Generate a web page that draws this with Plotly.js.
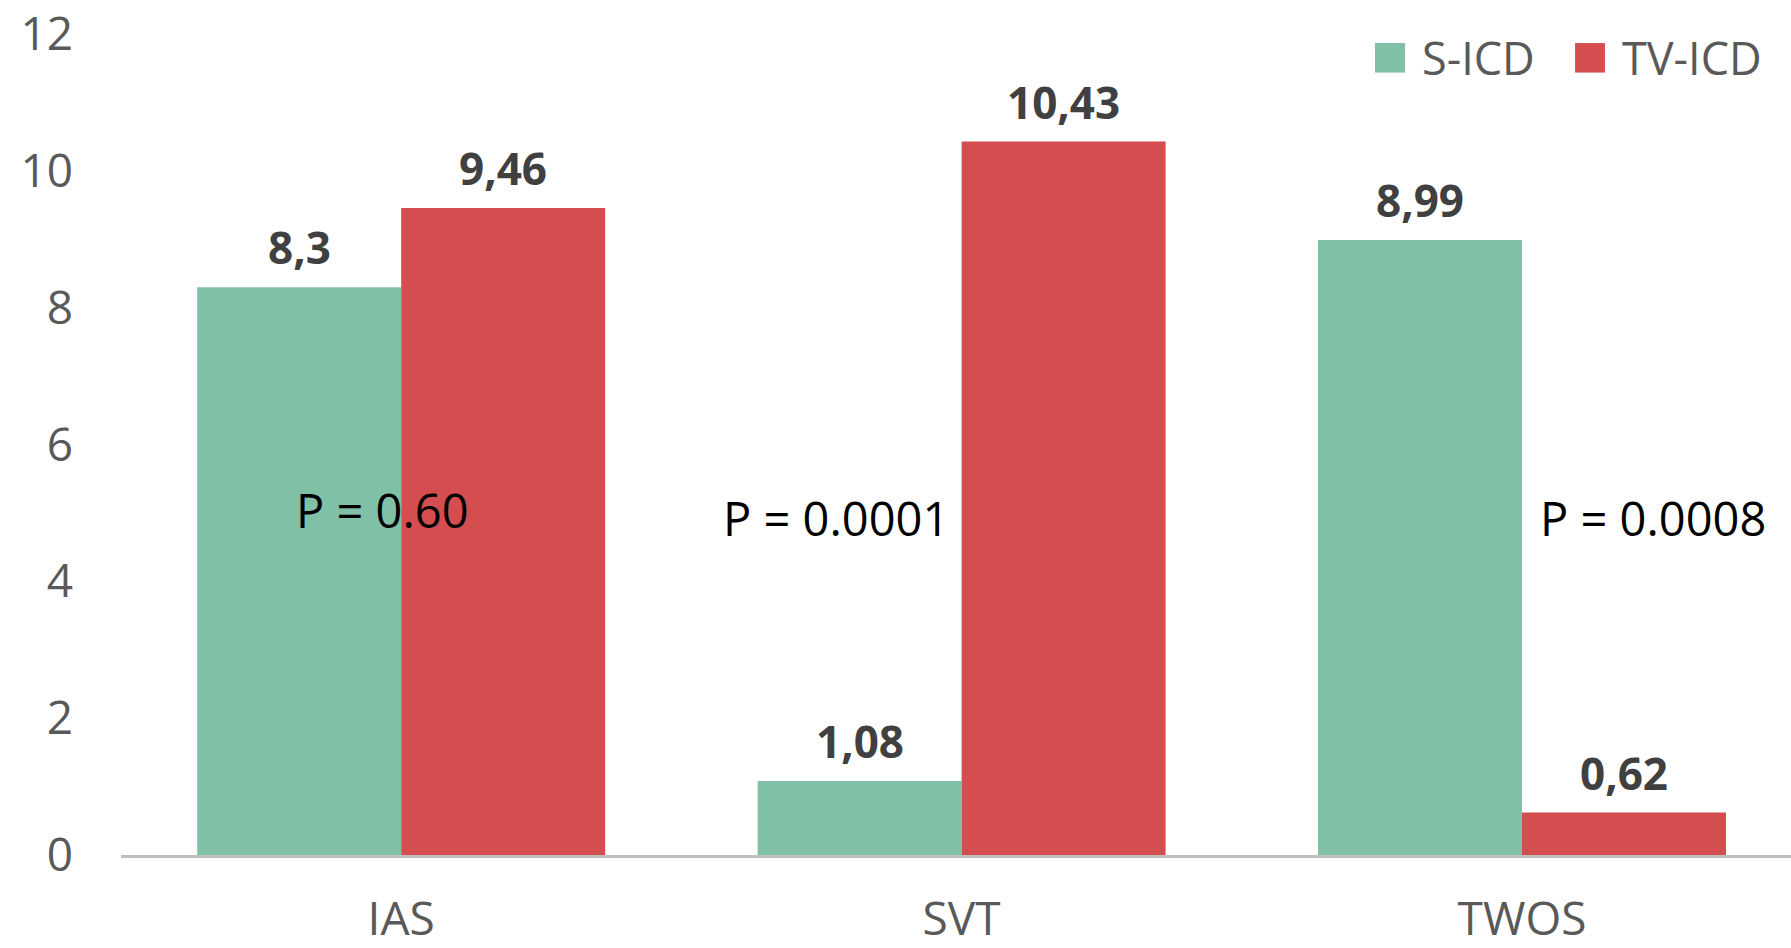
<!DOCTYPE html>
<html>
<head>
<meta charset="utf-8">
<script src="https://cdn.plot.ly/plotly-3.0.1.min.js"></script>
<style>
  html, body { margin: 0; padding: 0; background: #ffffff; }
  #chart { width: 1791px; height: 948px; }
</style>
</head>
<body>
<div id="chart"></div>
<script>
// Inappropriate shocks by cause, S-ICD vs TV-ICD
const categories = ['IAS', 'SVT', 'TWOS'];
const sIcdValues = [8.3, 1.08, 8.99];
const tvIcdValues = [9.46, 10.43, 0.62];
const seriesNames = ['S-ICD', 'TV-ICD'];
const pValueLabels = ['P = 0.60', 'P = 0.0001', 'P = 0.0008'];
const yTickValues = [0, 2, 4, 6, 8, 10, 12];

const COLORS = ['#80C0A7', '#D44D4F'];
const FONT = '"Open Sans", "Noto Sans", sans-serif';
const BARGAP = 0.272;
const series = [sIcdValues, tvIcdValues];

const traces = series.map((vals, i) => ({
  type: 'bar',
  name: seriesNames[i],
  x: categories,
  y: vals,
  marker: { color: COLORS[i], line: { width: 0 } },
  hoverinfo: 'none'
}));

// Value labels above each bar, centred on the bar's slot within its group
const slotWidth = (1 - BARGAP) / 2;
const annotations = [];
series.forEach((vals, i) => {
  vals.forEach((v, j) => {
    annotations.push({
      x: j + (i - 0.5) * slotWidth, y: v, xref: 'x', yref: 'y',
      text: '<b>' + String(v).replace('.', ',') + '</b>',
      showarrow: false, xanchor: 'center', yanchor: 'bottom', yshift: 8,
      font: { family: FONT, size: 44, color: '#404040' }
    });
  });
});

// Significance notes for each comparison
const pOffsets = [[-0.034, 5.05], [-0.224, 4.92], [0.234, 4.92]];
pValueLabels.forEach((t, j) => {
  annotations.push({
    x: j + pOffsets[j][0], y: pOffsets[j][1], xref: 'x', yref: 'y',
    text: t, showarrow: false, xanchor: 'center', yanchor: 'middle',
    font: { family: FONT, size: 47, color: '#000000' }
  });
});

// Legend: coloured squares with series names, top right
const legendItems = [
  { x0: 0.7509, x1: 0.7689, tx: 0.7778 },
  { x0: 0.8707, x1: 0.8886, tx: 0.8976 }
];
const shapes = [];
legendItems.forEach((it, i) => {
  shapes.push({
    type: 'rect', xref: 'paper', yref: 'paper',
    x0: it.x0, x1: it.x1, y0: 0.9530, y1: 0.9890,
    fillcolor: COLORS[i], line: { width: 0 }
  });
  annotations.push({
    x: it.tx, y: 0.9710, xref: 'paper', yref: 'paper',
    text: seriesNames[i], showarrow: false, xanchor: 'left', yanchor: 'middle',
    font: { family: FONT, size: 45, color: '#595959' }
  });
});

const tickFont = { family: FONT, size: 46, color: '#595959' };

const layout = {
  width: 1791, height: 948,
  margin: { l: 121, r: 0, t: 34, b: 93, pad: 0 },
  paper_bgcolor: '#ffffff', plot_bgcolor: '#ffffff',
  barmode: 'group', bargap: BARGAP, bargroupgap: 0,
  showlegend: false,
  xaxis: {
    type: 'category', range: [-0.5, 2.48],
    showline: true, linecolor: '#BFBFBF', linewidth: 2.5,
    showgrid: false, zeroline: false, ticks: '',
    tickfont: tickFont, ticklabelstandoff: 22
  },
  yaxis: {
    range: [0, 12.002], tickmode: 'array', tickvals: yTickValues,
    showline: false, showgrid: false, zeroline: false, ticks: '',
    tickfont: tickFont, ticklabelstandoff: 47, ticklabeloverflow: 'allow'
  },
  annotations: annotations,
  shapes: shapes
};

Plotly.newPlot('chart', traces, layout, { staticPlot: true, displayModeBar: false });
</script>
</body>
</html>
